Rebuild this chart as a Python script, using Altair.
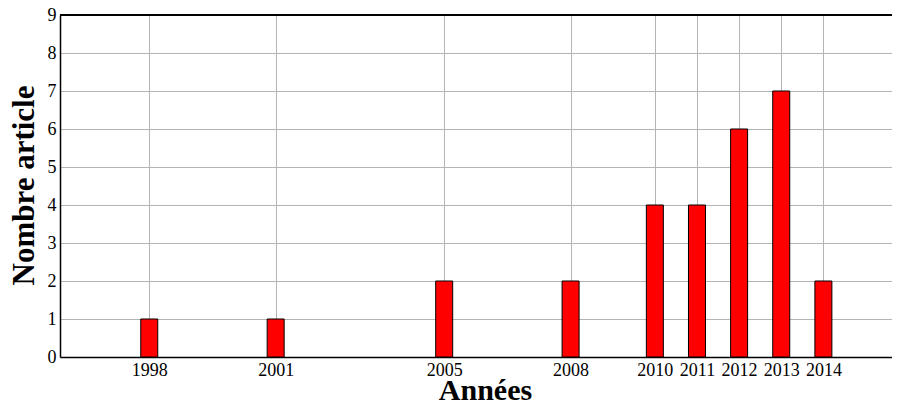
import altair as alt
import pandas as pd

years = [1998, 2001, 2005, 2008, 2010, 2011, 2012, 2013, 2014]
counts = [1, 1, 2, 2, 4, 4, 6, 7, 2]
y_ticks = [0, 1, 2, 3, 4, 5, 6, 7, 8, 9]

df = pd.DataFrame({"annee": years, "nombre": counts})

FONT = "Liberation Serif"
W, H = 832, 342

bars = alt.Chart(df).mark_bar(size=17, color="#ff0000", stroke="black", strokeWidth=1).encode(
    x=alt.X("annee:Q",
            scale=alt.Scale(domain=[1996, 2015.51], nice=False, zero=False),
            axis=alt.Axis(values=years, format="d", title="Années",
                          titleFont=FONT, titleFontSize=30, titleFontWeight="bold",
                          titleX=425, titleY=42, titleBaseline="alphabetic", titleAlign="center",
                          labelFont=FONT, labelFontSize=18, labelColor="black",
                          labelPadding=4, tickSize=0, domainColor="black", domainWidth=1.5,
                          gridColor="#b4b4b4", gridWidth=1, labelOverlap=False)),
    y=alt.Y("nombre:Q",
            scale=alt.Scale(domain=[0, 9], nice=False),
            axis=alt.Axis(values=y_ticks, title="Nombre article",
                          titleFont=FONT, titleFontSize=31, titleFontWeight="bold",
                          titleX=-27, titleY=170, titleAngle=270, titleBaseline="alphabetic", titleAlign="center",
                          labelFont=FONT, labelFontSize=18, labelColor="black",
                          labelPadding=4, tickSize=0, domainColor="black", domainWidth=1.5,
                          gridColor="#b4b4b4", gridWidth=1, labelOverlap=False)),
)

top_line = alt.Chart(df).mark_rule(color="black", strokeWidth=1.5).encode(
    x=alt.value(0), x2=alt.value(W), y=alt.value(0)
)

chart = alt.layer(bars, top_line).properties(
    width=W, height=H,
    autosize=alt.AutoSizeParams(type="none"),
    padding={"left": 52, "top": 7, "right": 0, "bottom": 44},
    background="white",
).configure_view(stroke=None)

chart.save("out.html", embed_options={"renderer": "svg", "actions": False})
